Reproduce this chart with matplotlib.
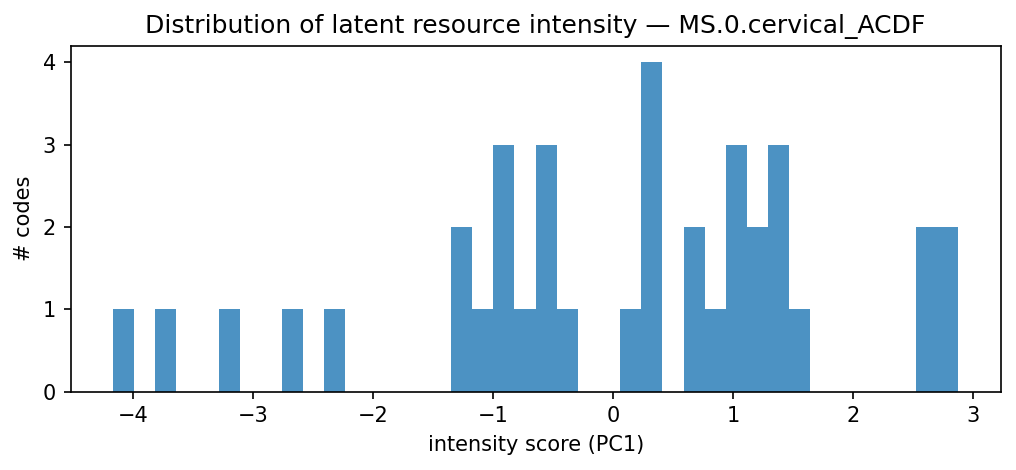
import numpy as np
import matplotlib
matplotlib.use("Agg")
import matplotlib.pyplot as plt

# histogram of PC1 intensity scores, 40 bins
score_min = -4.17
score_max = 2.875
n_bins = 40
counts = [1, 0, 1, 0, 0, 1, 0, 0, 1, 0,
          1, 0, 0, 0, 0, 0, 2, 1, 3, 1,
          3, 1, 0, 0, 1, 4, 0, 2, 1, 3,
          2, 3, 1, 0, 0, 0, 0, 0, 2, 2]

edges = np.linspace(score_min, score_max, n_bins + 1)
centers = 0.5 * (edges[:-1] + edges[1:])

fig, ax = plt.subplots(figsize=(1016 / 150, 470 / 150), dpi=150)
fig.subplots_adjust(left=0.0694, right=0.985, bottom=0.1666, top=0.9028)

ax.hist(centers, bins=edges, weights=counts, alpha=0.8)
ax.set_title("Distribution of latent resource intensity — MS.0.cervical_ACDF")
ax.set_xlabel("intensity score (PC1)")
ax.set_ylabel("# codes")

fig.savefig("out.png", dpi=150)
plt.close(fig)
